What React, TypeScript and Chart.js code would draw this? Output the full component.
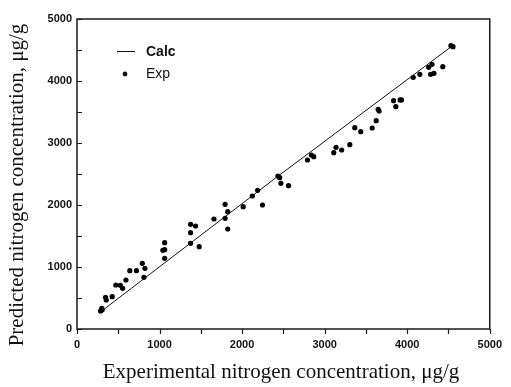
import React, { useEffect, useRef } from "react";
import { Chart, registerables } from "chart.js";

Chart.register(...registerables);

const expX = [285, 300, 305, 346, 354, 426, 470, 525, 553, 593, 640, 720, 791, 823, 811,
  1062, 1040, 1062, 1062, 1376, 1436, 1376, 1376, 1480,
  1659, 1794, 1826, 1794, 1826, 2013, 2124, 2188, 2247,
  2434, 2455, 2470, 2562, 2792, 2840, 2868,
  3110, 3138, 3206, 3305, 3365, 3437, 3576, 3624, 3648, 3660,
  3835, 3862, 3914, 3930, 4073, 4153, 4260, 4300, 4284, 4324, 4431, 4530, 4555];
const expY = [290, 335, 310, 511, 468, 521, 710, 705, 656, 790, 940, 940, 1059, 978, 833,
  1392, 1270, 1280, 1140, 1688, 1661, 1554, 1382, 1328,
  1774, 2011, 1892, 1785, 1613, 1973, 2145, 2237, 2000,
  2468, 2441, 2350, 2312, 2726, 2806, 2779,
  2844, 2930, 2887, 2973, 3247, 3183, 3242, 3360, 3543, 3516,
  3683, 3586, 3694, 3694, 4059, 4108, 4221, 4269, 4108, 4124, 4231, 4570, 4553];

const calcX = [275, 2430, 4530];
const calcY = [265, 2460, 4550];

const axisMin = 0;
const axisMax = 5000;
const tickStep = 500;
const labelStep = 1000;

const xTitle = "Experimental nitrogen concentration, \u03bcg/g";
const yTitle = "Predicted nitrogen concentration, \u03bcg/g";

const framePlugin = {
  id: "frame",
  afterDatasetsDraw(chart: any) {
    const { ctx, chartArea, scales } = chart;
    const { left, right, top, bottom } = chartArea;
    const x = scales.x;
    const y = scales.y;
    ctx.save();
    ctx.strokeStyle = "#1a1a1a";
    ctx.lineWidth = 1.5;
    ctx.strokeRect(left, top, right - left, bottom - top);
    ctx.lineWidth = 1.2;
    ctx.beginPath();
    x.ticks.forEach((t: any) => {
      const px = Math.round(x.getPixelForValue(t.value)) + 0.5;
      ctx.moveTo(px, bottom);
      ctx.lineTo(px, bottom + 5);
    });
    y.ticks.forEach((t: any) => {
      const py = Math.round(y.getPixelForValue(t.value)) + 0.5;
      ctx.moveTo(left, py);
      ctx.lineTo(left + 5, py);
    });
    ctx.stroke();

    // legend
    const ds = chart.data.datasets;
    ctx.fillStyle = "#111";
    ctx.strokeStyle = "#111";
    ctx.lineWidth = 1;
    ctx.beginPath();
    ctx.moveTo(117, 51.5);
    ctx.lineTo(135, 51.5);
    ctx.stroke();
    ctx.textBaseline = "middle";
    ctx.textAlign = "left";
    ctx.font = "bold 14px 'Liberation Sans', Arial, sans-serif";
    ctx.fillText(ds[0].label, 146, 52);
    ctx.beginPath();
    ctx.arc(125, 74, 2.4, 0, Math.PI * 2);
    ctx.fill();
    ctx.font = "14px 'Liberation Sans', Arial, sans-serif";
    ctx.fillText(ds[1].label, 146, 74);

    // axis titles
    ctx.fillStyle = "#111";
    ctx.font = "21px 'Liberation Serif', 'Times New Roman', serif";
    ctx.textAlign = "center";
    ctx.fillText(xTitle, 281, 372);
    ctx.save();
    ctx.translate(17, 185);
    ctx.rotate(-Math.PI / 2);
    ctx.fillText(yTitle, 0, 0);
    ctx.restore();
    ctx.restore();
  },
};

export default function App() {
  const ref = useRef<HTMLCanvasElement>(null);
  useEffect(() => {
    if (!ref.current) return;
    const tickFont = { family: "'Liberation Sans', Arial, sans-serif", size: 11, weight: "bold" as const };
    const labelCb = (v: any) => (Number(v) % labelStep === 0 ? String(v) : "");
    const chart = new Chart(ref.current, {
      type: "scatter",
      data: {
        datasets: [
          {
            label: "Calc",
            data: calcX.map((v, i) => ({ x: v, y: calcY[i] })),
            showLine: true,
            borderColor: "#111",
            borderWidth: 1,
            pointRadius: 0,
            fill: false,
          },
          {
            label: "Exp",
            data: expX.map((v, i) => ({ x: v, y: expY[i] })),
            showLine: false,
            backgroundColor: "#000",
            borderColor: "#000",
            pointRadius: 2.6,
            pointBorderWidth: 0,
          },
        ],
      },
      options: {
        animation: false,
        responsive: false,
        maintainAspectRatio: false,
        layout: { padding: { top: 19, right: 15, left: 0, bottom: 0 } },
        plugins: { legend: { display: false }, tooltip: { enabled: false } },
        scales: {
          x: {
            type: "linear",
            min: axisMin,
            max: axisMax,
            grid: { display: false, drawTicks: false },
            border: { display: false },
            ticks: { stepSize: tickStep, autoSkip: false, maxRotation: 0, padding: 9, color: "#111", font: tickFont, callback: labelCb },
            afterFit: (s: any) => { s.height = 58; },
          },
          y: {
            type: "linear",
            min: axisMin,
            max: axisMax,
            grid: { display: false, drawTicks: false },
            border: { display: false },
            ticks: { stepSize: tickStep, autoSkip: false, padding: 5, color: "#111", font: tickFont, callback: labelCb },
            afterFit: (s: any) => { s.width = 77; },
          },
        },
      },
      plugins: [framePlugin],
    });
    return () => chart.destroy();
  }, []);
  return (
    <div style={{ position: "fixed", left: 0, top: 0, width: 511, height: 387, background: "#fff" }}>
      <canvas ref={ref} width={511} height={387} style={{ width: 511, height: 387, display: "block" }} />
    </div>
  );
}
